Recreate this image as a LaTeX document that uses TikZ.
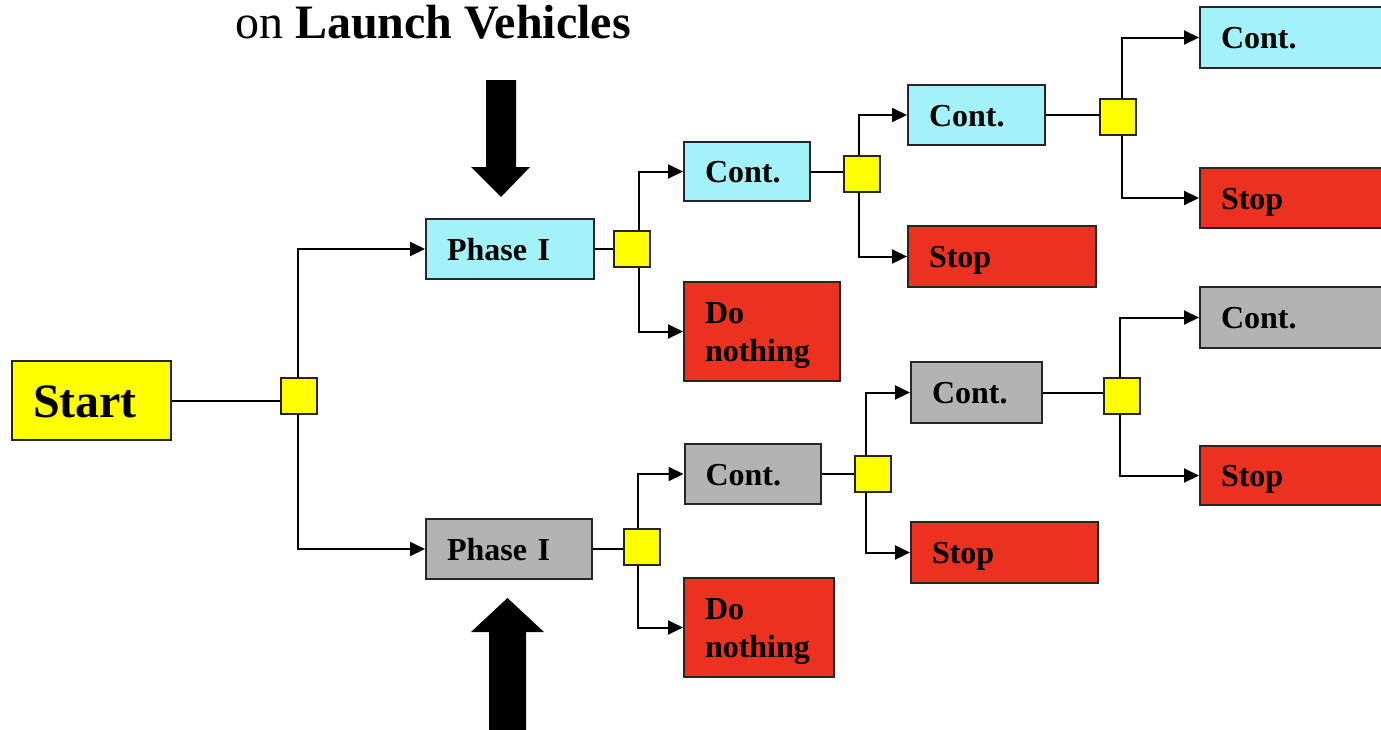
\documentclass[tikz,border=0pt]{standalone}
\usepackage{fontspec}
\setmainfont{Liberation Serif}
\usetikzlibrary{arrows.meta}

\definecolor{boxcyan}{RGB}{164,242,249}
\definecolor{boxgray}{RGB}{179,179,179}
\definecolor{boxred}{RGB}{235,50,32}
\definecolor{boxyellow}{RGB}{255,255,0}

\begin{document}
\begin{tikzpicture}[x=1pt,y=-1pt,
  % rectangular decision boxes: fill, width, height
  cell/.style n args={3}{draw=black!85, line width=2pt, fill=#1,
    inner xsep=21pt, inner ysep=0pt, align=left,
    minimum width=#2, text width={#2-42pt}, minimum height=#3,
    font=\bfseries\fontsize{32}{38}\selectfont,
    text height=22pt, text depth=0pt},
  twoline/.style={text depth=39pt},
  jn/.style={draw=black!85, line width=2pt, fill=boxyellow,
    minimum size=36pt, inner sep=0pt},
  link/.style={draw=black, line width=2pt},
  arr/.style={link, -{Triangle[length=15pt,width=14pt]}}]

\useasboundingbox (0,0) rectangle (1381,729);
\clip (0,0) rectangle (1381,729);

% heading
\node[anchor=base west, inner sep=0pt, font=\fontsize{48}{56}\selectfont]
  (title) at (235,38) {on \textbf{Launch Vehicles}};

% root
\node[cell={boxyellow}{159pt}{79pt}, font=\bfseries\fontsize{48}{56}\selectfont,
  text height=33pt] (start) at (91.5,400.5) {Start};
\node[jn] (j0) at (299,395.5) {};

% upper branch
\node[cell={boxcyan}{168pt}{60pt}] (p1) at (510,249) {Phase I};
\node[jn] (j1) at (632,248.5) {};
\node[cell={boxcyan}{126pt}{59pt}] (c1) at (747,171.5) {Cont.};
\node[cell={boxred}{156pt}{99pt}, twoline] (d1) at (762,331.5) {Do\\nothing};
\node[jn] (j2) at (861.5,174) {};
\node[cell={boxcyan}{137pt}{60pt}] (c2) at (976.5,115) {Cont.};
\node[cell={boxred}{188pt}{61pt}] (s2) at (1002,256.5) {Stop};
\node[jn] (j3) at (1118,117) {};
\node[cell={boxcyan}{220pt}{61pt}, anchor=west] (c3) at (1199,37.5) {Cont.};
\node[cell={boxred}{220pt}{60pt}, anchor=west] (s3) at (1199,198) {Stop};

% lower branch
\node[cell={boxgray}{165.5pt}{60pt}] (p2) at (508.75,549) {Phase I};
\node[jn] (j4) at (642,546.7) {};
\node[cell={boxgray}{136.5pt}{60pt}] (c4) at (752.75,474) {Cont.};
\node[cell={boxred}{150pt}{99pt}, twoline] (d2) at (759,627.5) {Do\\nothing};
\node[jn] (j5) at (873,474) {};
\node[cell={boxgray}{131pt}{61pt}] (c5) at (976.5,392.5) {Cont.};
\node[cell={boxred}{187pt}{61pt}] (s5) at (1004.5,552.5) {Stop};
\node[jn] (j6) at (1122,395.7) {};
\node[cell={boxgray}{220pt}{61pt}, anchor=west] (c6) at (1199,317.5) {Cont.};
\node[cell={boxred}{220pt}{59pt}, anchor=west] (s6) at (1199,475.5) {Stop};

% connectors
\draw[link] (start.east) -- (start.east -| j0.west);
\draw[arr] ([xshift=-1pt]j0.north) |- (p1.west);
\draw[arr] ([xshift=-1pt]j0.south) |- (p2.west);

\draw[link] (p1.east) -- (p1.east -| j1.west);
\draw[arr] ([xshift=6.5pt]j1.north) |- (c1.west);
\draw[arr] ([xshift=6.5pt]j1.south) |- (d1.west);
\draw[link] (c1.east) -- (c1.east -| j2.west);
\draw[arr] ([xshift=-2.5pt]j2.north) |- (c2.west);
\draw[arr] ([xshift=-2.5pt]j2.south) |- (s2.west);
\draw[link] (c2.east) -- (c2.east -| j3.west);
\draw[arr] ([xshift=4pt]j3.north) |- (c3.west);
\draw[arr] ([xshift=4pt]j3.south) |- (s3.west);

\draw[link] (p2.east) -- (p2.east -| j4.west);
\draw[arr] ([xshift=-4.5pt]j4.north) |- (c4.west);
\draw[arr] ([xshift=-4.5pt]j4.south) |- (d2.west);
\draw[link] (c4.east) -- (c4.east -| j5.west);
\draw[arr] ([xshift=-7pt]j5.north) |- (c5.west);
\draw[arr] ([xshift=-7pt]j5.south) |- (s5.west);
\draw[link] (c5.east) -- (c5.east -| j6.west);
\draw[arr] ([xshift=-2pt]j6.north) |- (c6.west);
\draw[arr] ([xshift=-2pt]j6.south) |- (s6.west);

% heavy pointers onto the two first-phase boxes
\fill[black] (486,80) -- (516,80) -- (516,167) -- (530,167) -- (501,197)
  -- (471,167) -- (486,167) -- cycle;
\fill[black] (489,740) -- (489,632) -- (471,632) -- (507.5,598) -- (544,632)
  -- (526,632) -- (526,740) -- cycle;
\end{tikzpicture}
\end{document}
